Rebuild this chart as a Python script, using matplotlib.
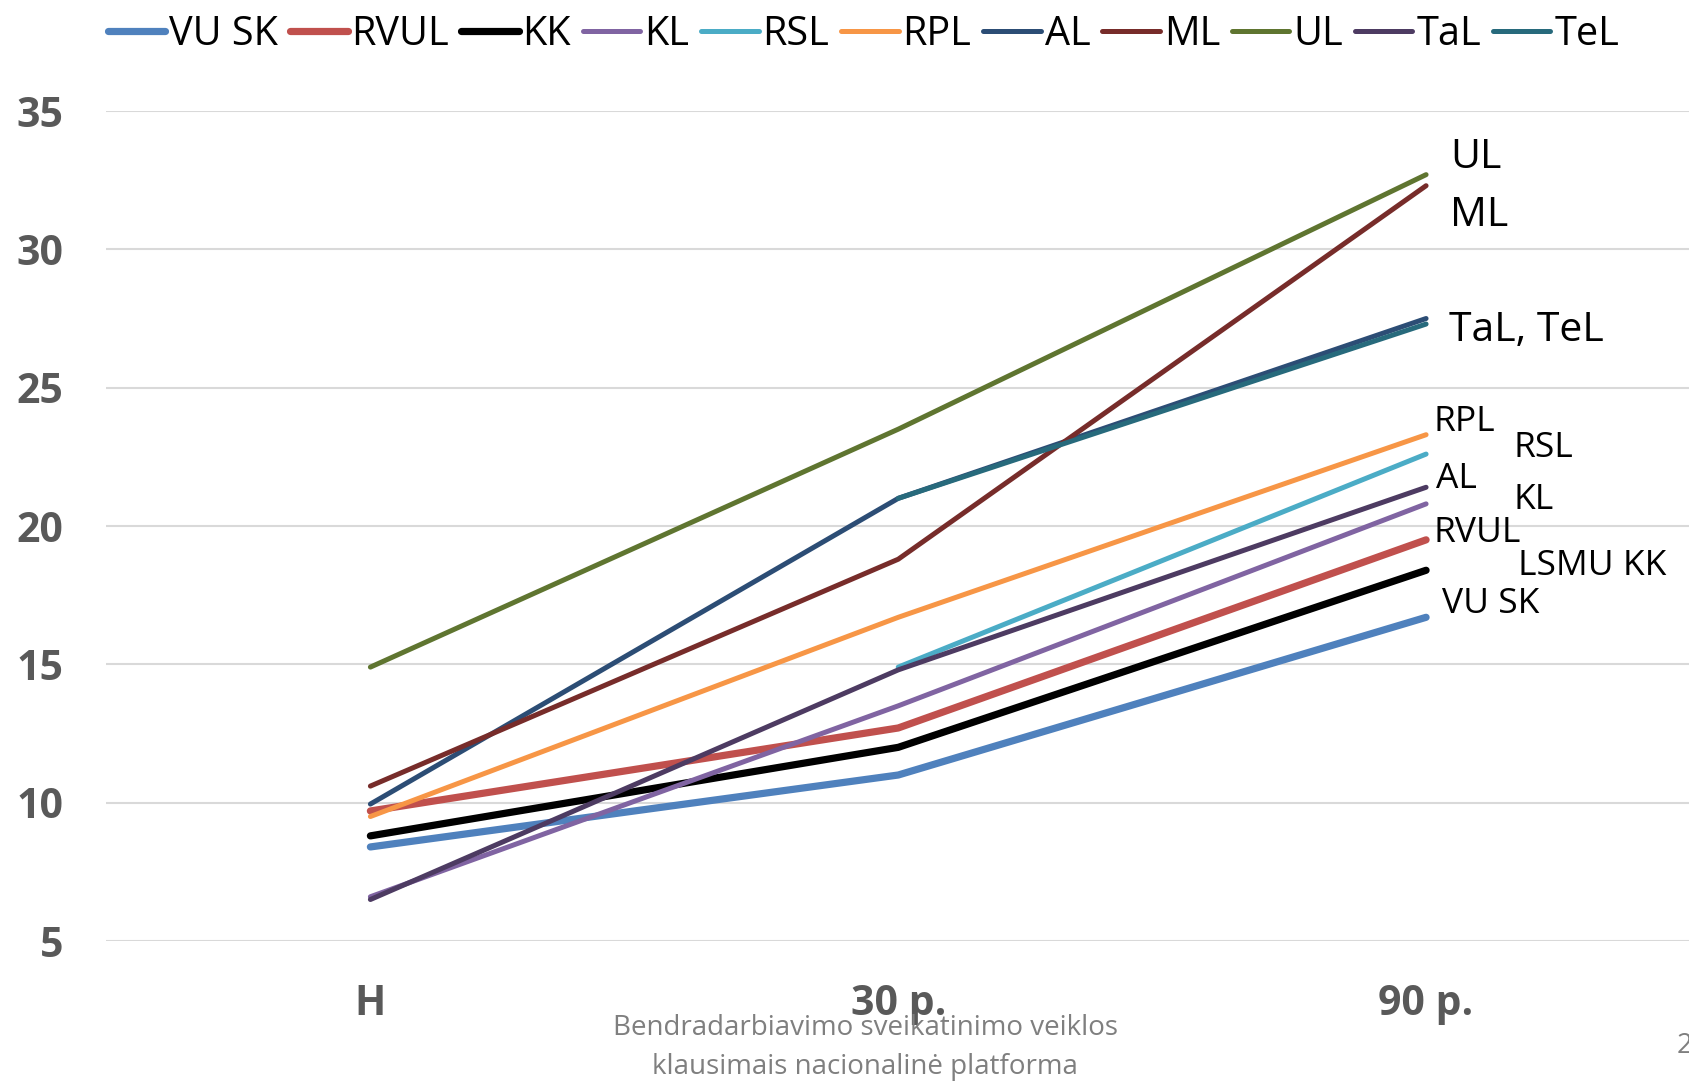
import matplotlib
matplotlib.use("Agg")
import matplotlib.pyplot as plt
import numpy as np

# --- Data ---
periods = ["H", "30 p.", "90 p."]
series_names = ["VU SK", "RVUL", "KK", "KL", "RSL", "RPL", "AL", "ML", "UL", "TaL", "TeL"]

vu_sk = [8.4, 11.0, 16.7]
rvul = [9.7, 12.7, 19.5]
kk = [8.8, 12.0, 18.4]
kl = [6.6, 13.5, 20.8]
rsl = [np.nan, 14.9, 22.6]
rpl = [9.5, 16.7, 23.3]
al = [9.95, 21.0, 27.5]
ml = [10.6, 18.8, 32.3]
ul = [14.9, 23.5, 32.7]
tal = [6.5, 14.8, 21.4]
tel = [np.nan, 21.0, 27.3]

# end labels (text, x, y in data units)
end_labels = ["UL", "ML", "TaL, TeL", "RPL", "RSL", "AL", "KL", "RVUL", "LSMU KK", "VU SK"]
end_x = [2.045, 2.045, 2.043, 2.015, 2.166, 2.019, 2.166, 2.015, 2.175, 2.030]
end_y = [33.30, 31.21, 27.05, 23.76, 22.82, 21.70, 20.94, 19.75, 18.56, 17.18]
end_big = [True, True, True, False, False, False, False, False, False, False]

# --- Styles ---
colors = ["#4F81BD", "#C0504D", "#000000", "#8064A2", "#4BACC6", "#F79646",
          "#2C4D75", "#772C2A", "#5F7530", "#4D3B62", "#276A7C"]
widths = [5.2, 5.2, 5.2, 3.6, 3.6, 3.6, 3.6, 3.6, 3.6, 3.6, 3.6]

plt.rcParams['font.family'] = ['Open Sans', 'DejaVu Sans']

fig = plt.figure(figsize=(16.9, 10.81), dpi=100)
ax = fig.add_axes([0.063, 0.1295, 0.937, 0.7678])

all_series = [vu_sk, rvul, kk, kl, rsl, rpl, al, ml, ul, tal, tel]
x = np.arange(len(periods))
for name, vals, c, w in zip(series_names, all_series, colors, widths):
    ax.plot(x, vals, color=c, lw=w, label=name,
            solid_capstyle='round', solid_joinstyle='round')

ax.set_xlim(-0.5, 2.5)
ax.set_ylim(5, 35)
ax.set_yticks(np.arange(5, 36, 5))
ax.set_xticks(x)
ax.set_xticklabels(periods)
ax.grid(axis='y', color='#D9D9D9', lw=1.5)
ax.set_axisbelow(True)
for s in ax.spines.values():
    s.set_visible(False)
ax.tick_params(length=0)
ax.tick_params(axis='y', pad=31)
ax.tick_params(axis='x', pad=31)
for lab in ax.get_xticklabels() + ax.get_yticklabels():
    lab.set_fontsize(29.5)
    lab.set_fontweight('bold')
    lab.set_color('#595959')

for txt, tx, ty, big in zip(end_labels, end_x, end_y, end_big):
    ax.text(tx, ty, txt, fontsize=29.5 if big else 25.5, va='center', ha='left',
            color='black', clip_on=False)

fig.legend(loc='center', bbox_to_anchor=(0.511, 0.968), ncol=11, frameon=False,
           fontsize=28.5, handlelength=1.45, handletextpad=0.1, columnspacing=0.3,
           borderaxespad=0)

fig.text(0.512, 0.031, "Bendradarbiavimo sveikatinimo veiklos\nklausimais nacionalinė platforma",
         ha='center', va='center', fontsize=20, color='#7F7F7F', linespacing=1.55)
fig.text(0.992, 0.032, "2", ha='left', va='center', fontsize=20, color='#7F7F7F')

fig.savefig("out.png", dpi=100)
